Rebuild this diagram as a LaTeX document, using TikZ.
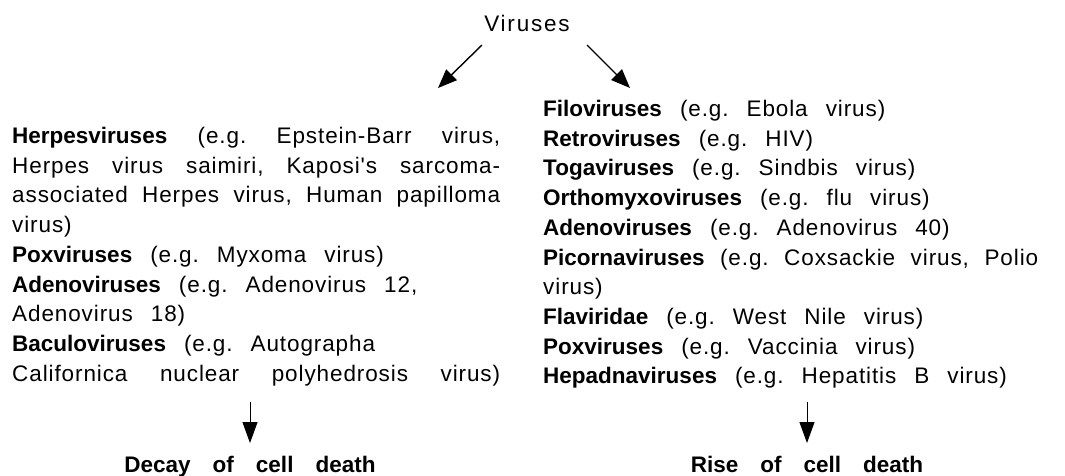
\documentclass[tikz,border=0pt]{standalone}
\usepackage{fontspec}
\setmainfont{Liberation Sans}[LetterSpace=4,BoldFeatures={LetterSpace=0},Ligatures=TeXOff]
\usetikzlibrary{arrows.meta,positioning}

\newcommand{\listfont}{\fontsize{22.5}{29.7}\selectfont\frenchspacing\spaceskip=18pt plus 40pt minus 6pt\relax}
\newcommand{\outfont}{\fontsize{22.5}{29.7}\selectfont\bfseries\spaceskip=22pt\relax}
\newcommand{\fullline}[2]{\makebox[#1][s]{#2}}

\tikzset{
    virlist/.style={anchor=north west, inner sep=0pt, align=left, font=\listfont},
    outcome/.style={anchor=base, inner sep=0pt, font=\outfont},
    splitarr/.style={-{Triangle[length=19pt,width=15pt]}, line width=1.4pt},
    downarr/.style={-{Triangle[length=21pt,width=15pt]}, line width=1pt},
}

\begin{document}
\begin{tikzpicture}[x=1pt, y=-1pt]
    \useasboundingbox (0,0) rectangle (1065,475);

    % top of the tree
    \node[anchor=base, inner sep=0pt, font=\listfont\addfontfeature{LetterSpace=8}] (viruses) at (527,31.5) {Viruses};
    \coordinate (lstart) at (482,45);
    \coordinate (lend) at (438,88);
    \coordinate (rstart) at (587,45);
    \coordinate (rend) at (630,88);
    \draw[splitarr] (lstart) -- (lend);
    \draw[splitarr] (rstart) -- (rend);

    % viruses that slow cell death
    \node[virlist] (decaylist) at (12,127) {%
        \fullline{488pt}{\textbf{Herpesviruses} (e.g. Epstein-Barr virus,}\\
        \fullline{488pt}{Herpes virus saimiri, Kaposi's sarcoma-}\\
        \fullline{488pt}{associated Herpes virus, Human papilloma}\\
        virus)\\
        \textbf{Poxviruses} (e.g. Myxoma virus)\\
        \textbf{Adenoviruses} (e.g. Adenovirus 12,\\
        Adenovirus 18)\\
        \textbf{Baculoviruses} (e.g. Autographa\\
        \fullline{488pt}{Californica nuclear polyhedrosis virus)}};

    % viruses that speed it up
    \node[virlist] (riselist) at (543,100) {%
        \textbf{Filoviruses} (e.g. Ebola virus)\\
        \textbf{Retroviruses} (e.g. HIV)\\
        \textbf{Togaviruses} (e.g. Sindbis virus)\\
        \textbf{Orthomyxoviruses} (e.g. flu virus)\\
        \textbf{Adenoviruses} (e.g. Adenovirus 40)\\
        \fullline{495pt}{\textbf{Picornaviruses} (e.g. Coxsackie virus, Polio}\\
        virus)\\
        \textbf{Flaviridae} (e.g. West Nile virus)\\
        \textbf{Poxviruses} (e.g. Vaccinia virus)\\
        \textbf{Hepadnaviruses} (e.g. Hepatitis B virus)};

    % outcomes
    \node[outcome] (decay) at (250,472) {Decay of cell death};
    \node[outcome] (rise) at (807,472) {Rise of cell death};
    \coordinate (ldown) at (250,402);
    \coordinate (ltip) at (250,443);
    \coordinate (rdown) at (807,402);
    \coordinate (rtip) at (807,443);
    \draw[downarr] (ldown) -- (ltip);
    \draw[downarr] (rdown) -- (rtip);
\end{tikzpicture}
\end{document}
